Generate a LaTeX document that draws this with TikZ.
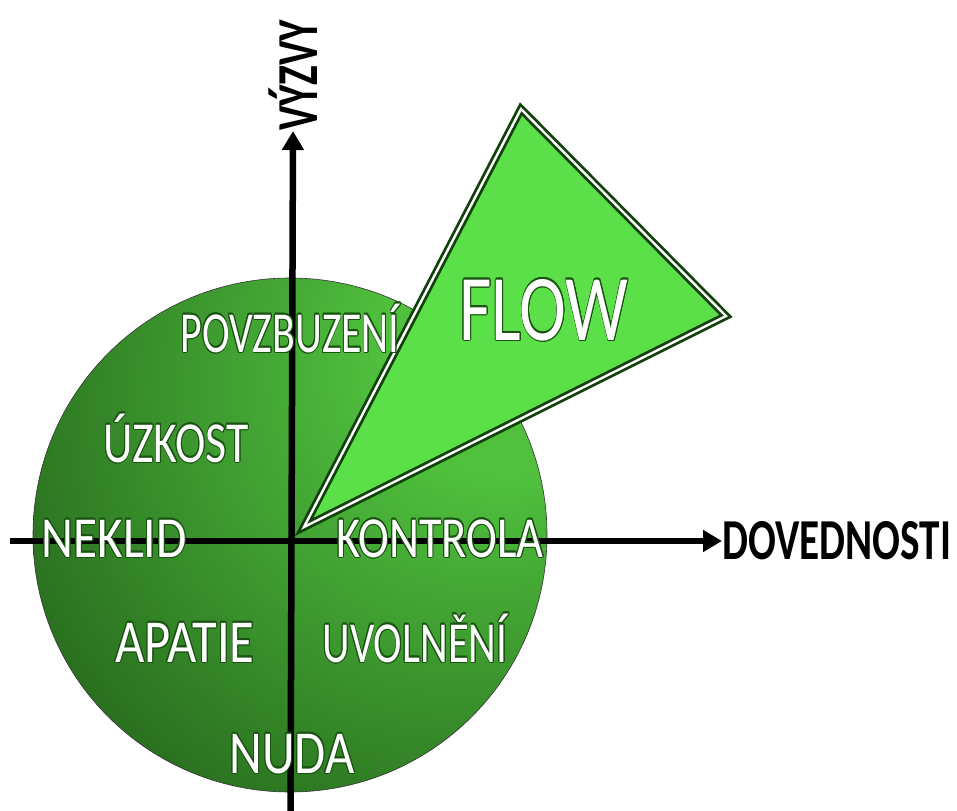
\documentclass[tikz,border=0pt]{standalone}
\usepackage{fontspec}
\setmainfont{Carlito}
\usepackage{contour}
\contourlength{1.1pt}
\usetikzlibrary{arrows.meta,positioning}
\definecolor{zelenatmava}{RGB}{18,60,12}
\definecolor{zelenatmavsi}{RGB}{26,78,18}
\definecolor{zelenastredni}{RGB}{55,140,42}
\definecolor{zelenasvetla}{RGB}{80,192,62}
\definecolor{zelenaflow}{RGB}{92,224,74}
\definecolor{obrys}{RGB}{24,84,16}
\definecolor{hrana}{RGB}{16,66,10}
\pgfdeclareradialshading{kruhstin}{\pgfpoint{24bp}{20bp}}{%
  color(0bp)=(zelenasvetla); color(12bp)=(zelenasvetla);
  color(32bp)=(zelenastredni); color(56bp)=(zelenatmavsi);
  color(76bp)=(zelenatmava); color(100bp)=(zelenatmava)}
\tikzset{
  kruh/.style={shade,shading=kruhstin,draw=black!80,line width=0.6pt},
  trojuhelnik/.style={draw=hrana,line width=8pt,fill=zelenaflow,line join=miter},
  vnitrek/.style={draw=white,line width=2.4pt,line join=miter},
  osa/.style={line width=6.5pt,black,-{Triangle[length=19pt,width=21pt]}},
  stitek/.style={text=white,anchor=base,inner sep=0pt,
    font=\fontsize{58}{58}\selectfont},
  popis/.style={text=black,inner sep=0pt,
    font=\bfseries\fontsize{58}{58}\selectfont}
}
\newcommand{\obrysem}[1]{\contour{obrys}{#1}}
\newcommand{\uzke}[1]{\scalebox{0.71}[1]{#1}}

\begin{document}
\begin{tikzpicture}[x=1pt,y=-1pt]
\useasboundingbox (0,0) rectangle (957,810);
% kruh
\coordinate (stred) at (290,535);
\path[kruh] (stred) circle [radius=257pt];
% osy
\coordinate (xzacatek) at (10,541);
\coordinate (yzacatek) at (290.5,815);
\node[popis,anchor=west] (dovednosti) at (722,541) {\uzke{DOVEDNOSTI}};
\node[popis,rotate=90,anchor=west] (vyzvy) at (293,131) {\uzke{VÝZVY}};
\draw[osa] (xzacatek) -- (dovednosti.west);
\draw[osa] (yzacatek) -- (vyzvy.west);
% flow
\coordinate (spicka) at (304,527);
\coordinate (vrchol) at (521,109);
\coordinate (roh) at (726,316);
\draw[trojuhelnik] (spicka) -- (vrchol) -- (roh) -- cycle;
\draw[vnitrek] (spicka) -- (vrchol) -- (roh) -- cycle;
\node[stitek,xscale=0.75,font=\fontsize{94}{94}\selectfont] (flowtext) at (544,340) {\obrysem{FLOW}};
% stavy
\node[stitek,xscale=0.72] (povzbuzeni) at (290,352) {\obrysem{POVZBUZENÍ}};
\node[stitek,xscale=0.79] (uzkost) at (176,462) {\obrysem{ÚZKOST}};
\node[stitek,xscale=0.85] (neklid) at (114,557) {\obrysem{NEKLID}};
\node[stitek,xscale=0.80] (kontrola) at (440,557) {\obrysem{KONTROLA}};
\node[stitek,xscale=0.83,font=\fontsize{61}{61}\selectfont] (apatie) at (185,662) {\obrysem{APATIE}};
\node[stitek,xscale=0.74] (uvolneni) at (415,662) {\obrysem{UVOLNĚNÍ}};
\node[stitek,xscale=0.83,font=\fontsize{61}{61}\selectfont] (nuda) at (292,773) {\obrysem{NUDA}};
\end{tikzpicture}
\end{document}
